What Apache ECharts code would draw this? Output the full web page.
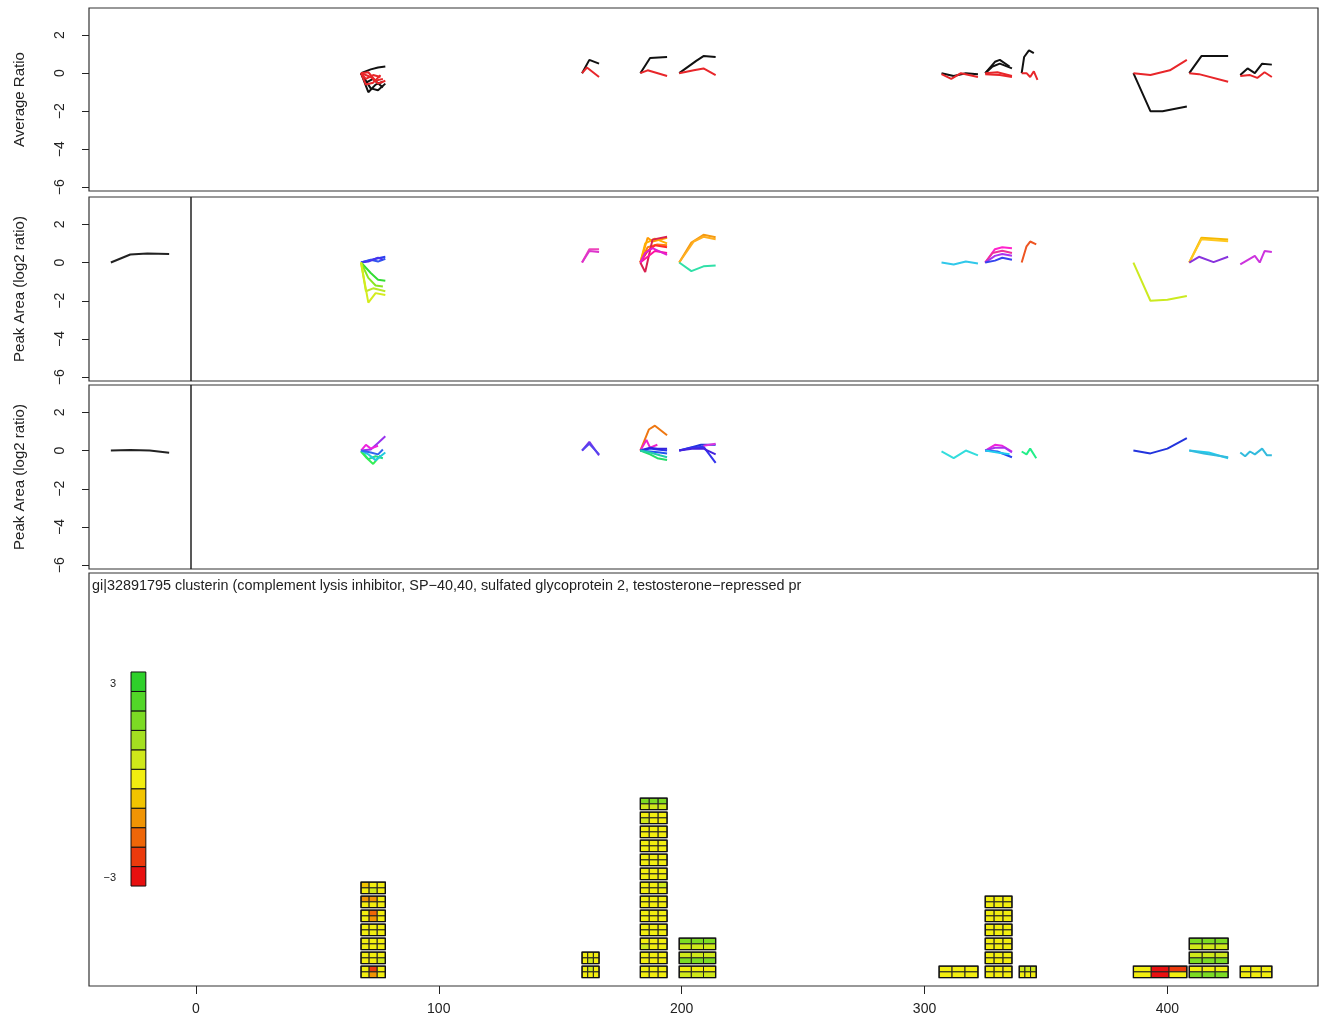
<!DOCTYPE html>
<html>
<head>
<meta charset="utf-8">
<script src="https://cdn.jsdelivr.net/npm/echarts@6/dist/echarts.min.js"></script>
<style>
  html, body { margin: 0; padding: 0; background: #fff; }
  #main { width: 1325px; height: 1023px; }
</style>
</head>
<body>
<div id="main"></div>
<script>
// ---- panel 1: average ratio (black / red per peptide cluster)
const avgBlack = [
  [[68,0],[72,0.2],[75,0.3],[78,0.35]],
  [[68,0],[71,-1.0],[74,-0.6],[77,-0.45]],
  [[68,0],[70,-0.5],[73,-0.3],[77,-0.75]],
  [[68,0],[72,-0.8],[75,-0.9],[78,-0.55]],
  [[159,0],[162,0.7],[166,0.5]],
  [[183,0],[187,0.8],[194,0.85]],
  [[199,0],[206,0.65],[209,0.9],[214,0.85]],
  [[307,0],[312,-0.15],[317,0],[322,-0.05]],
  [[325,0],[329,0.6],[331,0.7],[335,0.35]],
  [[325,0],[328,0.35],[331,0.5],[336,0.25]],
  [[340,0],[341,0.85],[343,1.2],[345,1.05]],
  [[386,0],[393,-2],[398,-2],[408,-1.75]],
  [[409,0],[414,0.9],[418,0.9],[425,0.9]],
  [[430,-0.1],[433,0.25],[436,0],[439,0.5],[443,0.45]]
];
const avgRed = [
  [[68,0],[70,-0.3],[73,-0.1],[76,-0.2]],
  [[68,0],[71,0.05],[74,-0.4],[77,-0.3]],
  [[68,0],[70,-0.6],[73,-0.5],[76,-0.1]],
  [[68,0],[72,-0.2],[75,-0.55],[78,-0.4]],
  [[159,0],[161,0.3],[166,-0.2]],
  [[183,0],[186,0.15],[194,-0.15]],
  [[199,0],[205,0.15],[209,0.25],[214,-0.1]],
  [[307,-0.05],[311,-0.3],[315,0],[322,-0.2]],
  [[325,0],[330,0.05],[336,-0.15]],
  [[325,-0.05],[331,-0.1],[336,-0.2]],
  [[340,0],[342,0],[343.5,-0.2],[345,0.1],[346.5,-0.35]],
  [[386,0],[393,-0.1],[401,0.15],[408,0.7]],
  [[409,0],[413,-0.05],[425,-0.45]],
  [[430,-0.15],[434,-0.1],[437,-0.25],[440,0.05],[443,-0.2]]
];

// ---- panel 2: peak area, first comparison
const area1Lines = [
  [[68,0],[71,0.1],[74,0.2],[78,0.3]],
  [[68,0],[72,0.15],[75,0.05],[78,0.2]],
  [[68,0],[71,0.05],[75,0.25],[77,0.15]],
  [[68,0],[72,-0.55],[75,-0.9],[78,-0.95]],
  [[68,0],[71,-0.8],[74,-1.2],[77,-1.25]],
  [[68,0],[70,-1.5],[73,-1.35],[78,-1.5]],
  [[68,0],[71,-2.1],[74,-1.6],[78,-1.7]],
  [[159,0],[162,0.7],[166,0.7]],
  [[159,0],[162,0.6],[166,0.55]],
  [[183,0],[186,1.3],[188,1.1],[194,1.3]],
  [[183,0],[185,1.0],[189,1.25],[194,1.0]],
  [[183,0],[186,0.8],[190,0.95],[194,0.9]],
  [[183,0],[185,-0.5],[188,1.2],[194,1.35]],
  [[183,0],[186,0.6],[189,0.9],[194,0.8]],
  [[183,0],[186,0.3],[189,0.6],[194,0.5]],
  [[183,0],[185,0.5],[188,0.75],[194,0.4]],
  [[199,0],[204,1.05],[209,1.45],[214,1.32]],
  [[199,0],[205,1.1],[209,1.35],[214,1.22]],
  [[199,0],[204,-0.45],[209,-0.2],[214,-0.15]],
  [[307,0],[312,-0.1],[317,0.05],[322,-0.05]],
  [[325,0],[329,0.7],[332,0.8],[336,0.75]],
  [[325,0],[328,0.5],[332,0.62],[336,0.5]],
  [[325,0],[329,0.35],[332,0.45],[336,0.35]],
  [[325,0],[329,0.1],[332,0.25],[336,0.15]],
  [[340,0],[342,0.85],[343.5,1.1],[346,0.95]],
  [[386,0],[393,-2],[400,-1.95],[408,-1.75]],
  [[409,0],[414,1.3],[425,1.2]],
  [[409,0],[414,1.22],[425,1.12]],
  [[409,0],[413,0.3],[419,0.02],[425,0.3]],
  [[430,-0.1],[436,0.35],[438,0],[440,0.6],[443,0.55]]
];
const area1Colors = [
  '#2a3cf0','#3355ee','#4433ee','#33dd33','#88e622','#bbe82a','#d4ec1c',
  '#ee44bb','#dd33cc',
  '#ff9a00','#ffb000','#ff7f10','#d92050','#ff2a2a','#ff10a0','#e020d0',
  '#f59a10','#ffae20','#30e0a8',
  '#30c8ea',
  '#ff22cc','#ee3399','#aa33ee','#3344ee',
  '#ee5522',
  '#ccea20',
  '#f5b800','#ffc820','#8833dd',
  '#cc33dd'
];

// ---- panel 3: peak area, second comparison
const area2Lines = [
  [[68,0],[72,0.05],[75,0.4],[78,0.75]],
  [[68,0],[70,0.3],[72,0.1],[75,0.25]],
  [[68,0],[71,-0.45],[74,-0.3],[77,-0.4]],
  [[68,-0.05],[70,-0.35],[73,-0.7],[76,-0.25]],
  [[68,0],[71,-0.2],[74,-0.5],[78,-0.1]],
  [[68,0],[72,-0.1],[75,-0.2],[77,0.05]],
  [[159,0],[162,0.45],[166,-0.25]],
  [[159,0],[162,0.35],[166,-0.2]],
  [[183,0],[186.5,1.1],[189,1.3],[194,0.8]],
  [[183,0],[185.5,0.55],[187,0.15],[190,0.3]],
  [[183,0],[187,0.1],[190,0.05],[194,0]],
  [[183,0],[187,0.15],[190,0.1],[194,0.1]],
  [[183,0],[187,-0.05],[191,-0.1],[194,-0.15]],
  [[183,0],[187,-0.2],[190,-0.4],[194,-0.5]],
  [[183,0],[187,-0.1],[191,-0.25],[194,-0.35]],
  [[199,0],[205,0.2],[208,0.3],[214,0.3]],
  [[199,0],[204,0.15],[209,0.2],[214,-0.65]],
  [[199,0],[205,0.1],[209,0.1],[214,-0.2]],
  [[209,0.25],[214,0.35]],
  [[307,-0.05],[312,-0.4],[317,0],[322,-0.25]],
  [[325,0],[329,0.3],[332,0.25],[336,-0.05]],
  [[325,0],[329,0.15],[333,0.15],[336,-0.1]],
  [[325,0],[330,-0.05],[336,-0.35]],
  [[325,0],[330,-0.1],[335,-0.2]],
  [[340,-0.05],[342,-0.2],[343.5,0.1],[346,-0.4]],
  [[386,0],[393,-0.15],[400,0.1],[408,0.65]],
  [[409,0],[417,-0.1],[425,-0.4]],
  [[409,0],[415,-0.15],[425,-0.35]],
  [[430,-0.1],[432,-0.3],[434,-0.05],[436,-0.2],[439,0.1],[441,-0.25],[443,-0.25]]
];
const area2Colors = [
  '#9933ee','#ee22dd','#22dd88','#33ee55','#22ccdd','#3366ee',
  '#7733ee','#5544ee',
  '#ee7711','#ee22cc','#2233ee','#3322dd','#2255ee','#22dd66','#22ccaa',
  '#2233dd','#3333ee','#4422dd','#dd33dd',
  '#33dddd',
  '#ee22dd','#aa33ee','#2244ee','#22ccee',
  '#22ee88',
  '#2233dd',
  '#22ccee','#33bbdd',
  '#33bbdd'
];

// reference traces left of the divider
const refArea1 = [[-35,0],[-27,0.42],[-20,0.47],[-11,0.45]];
const refArea2 = [[-35,0],[-27,0.03],[-19,0],[-11,-0.12]];
const dividerX = -2;

// ---- panel 4: peptide coverage blocks (each row: 3 columns x 2 sub rows)
const blockStart = [68, 159, 183, 199, 306, 325, 339, 386, 409, 430];
const blockEnd   = [78, 166, 194, 214, 322, 336, 346, 408, 425, 443];
const blockRows = [
  [[0,-2.4,0,0,-1.5,0],[0,0,0,0,0,0.5],[0,0,0,0,0,0],[0,0,0.3,0,0,0],
   [0,-2,0,0,-1,0],[-1,-1.2,0,0,0,0],[-0.5,0,0,0,0.4,0]],
  [[0,0.4,0,0,0,0],[0,0,0,0,0.4,0]],
  [[0,0,0,0,0,0],[0,0,0,0,0,0],[0,0,0,0.4,0,0],[0,0,0,0,0,0],[0,0,0,0,0,0],
   [0,0,0,0,0,0],[0,0,0.4,0,0,0],[0,0,0,0,0,0],[0,0,0,0,0,0],[0,0,0,0,0,0],
   [0,0,0,0,0,0],[0,0,0,0.4,0,0],[2,2,1.5,0.6,0.6,0.6]],
  [[0,0,0,0.8,0.8,0.8],[0.4,0.4,0.4,1.5,1.5,1.5],[1.5,1.5,1.5,0.6,0.6,0.6]],
  [[0,0,0,0,0,0]],
  [[0,0,0,0,0,0],[0,0,0,0,0,0],[0,0,0,0,0,0],[0,0,0,0,0,0],[0,0,0,0,0,0],[0,0,0,0,0,0]],
  [[0.4,0.4,0.4,0,0,0]],
  [[0,-3,-2.4,0,-3,0]],
  [[0,0,0,1.6,1.6,1.6],[0.4,0.4,0.4,1.6,1.6,1.6],[1.5,1.5,1.5,0.6,0.6,0.6]],
  [[0,0,0,0,0,0]]
];
const keyColors = ['#e81010','#eb3a0c','#ee6608','#f09404','#f2c400','#f2ee10',
                   '#cfe81a','#a4e020','#7cdb24','#52d628','#2ed02a'];
const keyLabels = ['\u22123', '3'];
const xTicks = [0, 100, 200, 300, 400];
const yTicks = [-6, -4, -2, 0, 2];
const proteinTitle = 'gi|32891795 clusterin (complement lysis inhibitor, SP\u221240,40, sulfated glycoprotein 2, testosterone\u2212repressed pr';

// layout
const FONT = '"Liberation Sans", Arial, sans-serif';
const X_MIN = -44, X_MAX = 462;
const ROW_H = 0.82;
const KEY_X = [-26.7, -20.6], KEY_Y = [6.54, 21.83];

const chart = echarts.init(document.getElementById('main'));

function minusFmt(v) { return v < 0 ? '\u2212' + (-v) : String(v); }

function yAx(gi, name) {
  return {
    gridIndex: gi, type: 'value', min: -6.2, max: 3.43,
    name: name, nameLocation: 'middle', nameGap: 62,
    nameTextStyle: { fontSize: 15, color: '#222', fontFamily: FONT },
    axisLine: { show: false, onZero: false },
    axisTick: { show: true, length: 7, customValues: yTicks, lineStyle: { color: '#222' } },
    axisLabel: { customValues: yTicks, rotate: 90, margin: 22, fontSize: 14, color: '#222',
      fontFamily: FONT, formatter: minusFmt },
    splitLine: { show: false }
  };
}
function xAx(gi, show) {
  return {
    gridIndex: gi, type: 'value', min: X_MIN, max: X_MAX, show: show,
    axisLine: { show: false, onZero: false },
    axisTick: { show: true, length: 8, customValues: xTicks, lineStyle: { color: '#222' } },
    axisLabel: { customValues: xTicks, margin: 16, fontSize: 14, color: '#222', fontFamily: FONT },
    splitLine: { show: false }
  };
}
function lineSeries(pts, color, gi) {
  return {
    type: 'line', xAxisIndex: gi, yAxisIndex: gi, data: pts,
    showSymbol: false, symbol: 'none', silent: true, animation: false,
    lineStyle: { color: color, width: 2 }, itemStyle: { color: color }
  };
}
function valColor(v) {
  const i = Math.round((v + 3) / 6 * (keyColors.length - 1));
  return keyColors[Math.max(0, Math.min(keyColors.length - 1, i))];
}

const gridBase = { left: 89, right: 7, show: true, borderColor: '#333', borderWidth: 1.2 };
const grids = [
  Object.assign({ top: 8, height: 183 }, gridBase),
  Object.assign({ top: 197, height: 184 }, gridBase),
  Object.assign({ top: 385, height: 184 }, gridBase),
  Object.assign({ top: 573, height: 413 }, gridBase)
];

const series = [];
avgBlack.forEach(l => series.push(lineSeries(l, '#111111', 0)));
avgRed.forEach(l => series.push(lineSeries(l, '#e8262a', 0)));
area1Lines.forEach((l, i) => series.push(lineSeries(l, area1Colors[i], 1)));
area2Lines.forEach((l, i) => series.push(lineSeries(l, area2Colors[i], 2)));

[refArea1, refArea2].forEach((l, i) => {
  const s = lineSeries(l, '#222222', i + 1);
  s.markLine = {
    silent: true, symbol: 'none', animation: false, label: { show: false },
    lineStyle: { color: '#222', type: 'solid', width: 1.5 },
    data: [{ xAxis: dividerX }]
  };
  series.push(s);
});

// coverage rows
const rowData = [];
blockRows.forEach((rows, b) => {
  rows.forEach((vals, r) => rowData.push([blockStart[b], blockEnd[b], r].concat(vals)));
});
series.push({
  type: 'custom', xAxisIndex: 3, yAxisIndex: 3, silent: true, animation: false,
  encode: { x: [0, 1], y: 2 },
  data: rowData,
  renderItem(params, api) {
    const r = api.value(2);
    const a = api.coord([api.value(0), r + ROW_H]);
    const b = api.coord([api.value(1), r]);
    const w = b[0] - a[0], h = b[1] - a[1];
    const children = [];
    for (let k = 0; k < 6; k++) {
      const c = k % 3, s = Math.floor(k / 3);
      children.push({
        type: 'rect',
        shape: { x: a[0] + c * w / 3, y: a[1] + s * h / 2, width: w / 3, height: h / 2 },
        style: { fill: valColor(api.value(3 + k)), stroke: '#222', lineWidth: 1 }
      });
    }
    children.push({ type: 'rect', shape: { x: a[0], y: a[1], width: w, height: h },
      style: { fill: null, stroke: '#111', lineWidth: 1.3 } });
    return { type: 'group', children };
  }
});

// colour key
const step = (KEY_Y[1] - KEY_Y[0]) / keyColors.length;
const keyData = keyColors.map((c, i) => [KEY_X[0], KEY_X[1], KEY_Y[0] + i * step, KEY_Y[0] + (i + 1) * step, i]);
series.push({
  type: 'custom', xAxisIndex: 3, yAxisIndex: 3, silent: true, animation: false,
  encode: { x: [0, 1], y: [2, 3] },
  data: keyData,
  renderItem(params, api) {
    const i = api.value(4);
    const a = api.coord([api.value(0), api.value(3)]);
    const b = api.coord([api.value(1), api.value(2)]);
    const ch = [{ type: 'rect', shape: { x: a[0], y: a[1], width: b[0] - a[0], height: b[1] - a[1] },
      style: { fill: keyColors[i], stroke: '#111', lineWidth: 1 } }];
    if (i === 0 || i === keyColors.length - 1) {
      ch.push({ type: 'text', style: {
        text: i === 0 ? keyLabels[0] : keyLabels[1],
        x: a[0] - 15, y: (a[1] + b[1]) / 2 + 2, align: 'right', verticalAlign: 'middle',
        fontSize: 11, fontFamily: FONT, fill: '#222' } });
    }
    return { type: 'group', children: ch };
  }
});

chart.setOption({
  backgroundColor: '#fff',
  animation: false,
  grid: grids,
  xAxis: [xAx(0, false), xAx(1, false), xAx(2, false), xAx(3, true)],
  yAxis: [
    yAx(0, 'Average Ratio'),
    yAx(1, 'Peak Area (log2 ratio)'),
    yAx(2, 'Peak Area (log2 ratio)'),
    { gridIndex: 3, type: 'value', min: -0.6, max: 28.9, show: false }
  ],
  graphic: [{
    type: 'text', left: 92, top: 579,
    style: { text: proteinTitle, fontSize: 14.4, fontFamily: FONT, fill: '#222' }
  }],
  series: series
});
</script>
</body>
</html>
